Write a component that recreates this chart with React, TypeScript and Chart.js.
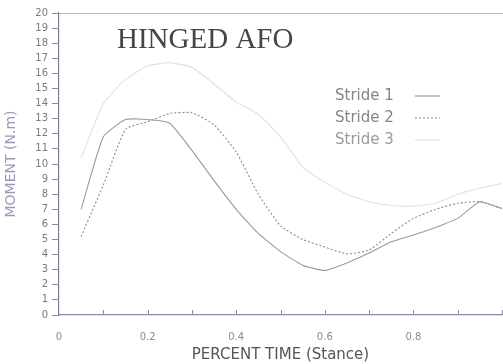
import React, { useEffect, useRef } from 'react';
import { Chart, registerables } from 'chart.js';

Chart.register(...registerables);

const percentTime = [0.05, 0.1, 0.15, 0.2, 0.25, 0.3, 0.35, 0.4, 0.45, 0.5, 0.55, 0.6, 0.65, 0.7, 0.75, 0.8, 0.85, 0.9, 0.95, 1.0];
const stride1 = [7.0, 11.8, 12.95, 12.95, 12.7, 10.9, 8.9, 7.0, 5.4, 4.2, 3.3, 2.95, 3.45, 4.1, 4.85, 5.3, 5.8, 6.4, 7.5, 7.05];
const stride2 = [5.2, 8.6, 12.3, 12.8, 13.35, 13.4, 12.6, 10.8, 8.0, 5.9, 5.0, 4.5, 4.05, 4.3, 5.4, 6.4, 7.0, 7.4, 7.5, 7.05];
const stride3 = [10.4, 14.0, 15.6, 16.5, 16.7, 16.4, 15.3, 14.1, 13.3, 11.8, 9.8, 8.8, 8.0, 7.5, 7.25, 7.2, 7.4, 8.0, 8.4, 8.7];
const seriesLabels = ['Stride 1', 'Stride 2', 'Stride 3'];
const xLabeledTicks = [0, 0.2, 0.4, 0.6, 0.8];
const chartTitle = 'HINGED AFO';
const xAxisTitle = 'PERCENT TIME (Stance)';
const yAxisTitle = 'MOMENT (N.m)';

const decorPlugin = {
  id: 'decor',
  afterDraw(chart: any) {
    const { ctx, chartArea: ca, scales } = chart;
    const xs = scales.x;
    ctx.save();
    ctx.strokeStyle = '#b8b8cc';
    ctx.lineWidth = 1;
    ctx.beginPath();
    ctx.moveTo(ca.left, ca.top + 0.5);
    ctx.lineTo(ca.right + 1, ca.top + 0.5);
    ctx.stroke();
    ctx.strokeStyle = '#8a8aa0';
    for (let k = 1; k <= 10; k++) {
      const px = Math.round(xs.getPixelForValue(k / 10)) + 0.5;
      ctx.beginPath();
      ctx.moveTo(px, ca.bottom - 5);
      ctx.lineTo(px, ca.bottom);
      ctx.stroke();
    }
    ctx.fillStyle = '#454545';
    ctx.font = '29px "Liberation Serif"';
    ctx.textBaseline = 'alphabetic';
    ctx.textAlign = 'left';
    ctx.fillText(chartTitle, ca.left + 58, ca.top + 35);
    ctx.font = '15px "DejaVu Sans"';
    ctx.textBaseline = 'middle';
    chart.data.datasets.forEach((ds: any, i: number) => {
      const y = ca.top + 83 + i * 22;
      ctx.fillStyle = i === 2 ? '#9a9a9a' : '#858585';
      ctx.fillText(ds.label, ca.left + 276, y);
      ctx.strokeStyle = ds.borderColor;
      ctx.lineWidth = ds.borderWidth;
      ctx.setLineDash(ds.borderDash || []);
      ctx.beginPath();
      ctx.moveTo(ca.left + 356, y);
      ctx.lineTo(ca.left + 381, y);
      ctx.stroke();
      ctx.setLineDash([]);
    });
    ctx.restore();
  },
};

export default function App() {
  const ref = useRef<HTMLCanvasElement | null>(null);
  useEffect(() => {
    if (!ref.current) return;
    const mk = (vals: number[]) => percentTime.map((x, i) => ({ x, y: vals[i] }));
    const common = { borderWidth: 1.1, pointRadius: 0, tension: 0.15, fill: false };
    const chart = new Chart(ref.current, {
      type: 'line',
      data: {
        datasets: [
          { label: seriesLabels[0], data: mk(stride1), borderColor: '#9a9a9a', ...common },
          { label: seriesLabels[1], data: mk(stride2), borderColor: '#8c8c8c', borderDash: [2, 2], ...common },
          { label: seriesLabels[2], data: mk(stride3), borderColor: '#e0e0e0', ...common },
        ],
      },
      options: {
        responsive: false,
        animation: false,
        layout: { padding: { top: 13, right: 1, left: 0, bottom: 0 } },
        plugins: { legend: { display: false }, tooltip: { enabled: false }, title: { display: false } },
        scales: {
          x: {
            type: 'linear',
            min: 0,
            max: 1,
            afterFit: (s: any) => { s.height = 49; },
            afterBuildTicks: (s: any) => { s.ticks = xLabeledTicks.map((v) => ({ value: v })); },
            ticks: {
              autoSkip: false,
              maxRotation: 0,
              padding: 8,
              color: '#8a8a8a',
              font: { family: '"DejaVu Sans"', size: 10 },
              callback: (v: any) => (v === 0 ? '0' : Number(v).toFixed(1)),
            },
            grid: { display: false },
            border: { display: true, color: '#8a8aa8', width: 1.2 },
            title: { display: true, text: xAxisTitle, color: '#555', font: { family: '"DejaVu Sans"', size: 15 }, padding: { top: 0, bottom: 0 } },
          },
          y: {
            min: 0,
            max: 20,
            afterFit: (s: any) => { s.width = 59; },
            ticks: {
              stepSize: 1,
              autoSkip: false,
              padding: 4,
              color: '#7a7a7a',
              font: { family: '"DejaVu Sans"', size: 10 },
            },
            grid: { display: true, drawOnChartArea: false, drawTicks: true, tickLength: 7, color: '#8a8aa0' },
            border: { display: true, color: '#7c7c96', width: 1.2 },
            title: { display: true, text: yAxisTitle, color: '#9a9ab8', font: { family: '"DejaVu Sans"', size: 14 }, padding: { top: 3, bottom: 0 } },
          },
        },
      },
      plugins: [decorPlugin],
    } as any);
    return () => chart.destroy();
  }, []);
  return (
    <div style={{ position: 'fixed', left: 0, top: 0, width: 503, height: 364, background: '#fff' }}>
      <canvas ref={ref} width={503} height={364} style={{ display: 'block', width: 503, height: 364 }} />
    </div>
  );
}
